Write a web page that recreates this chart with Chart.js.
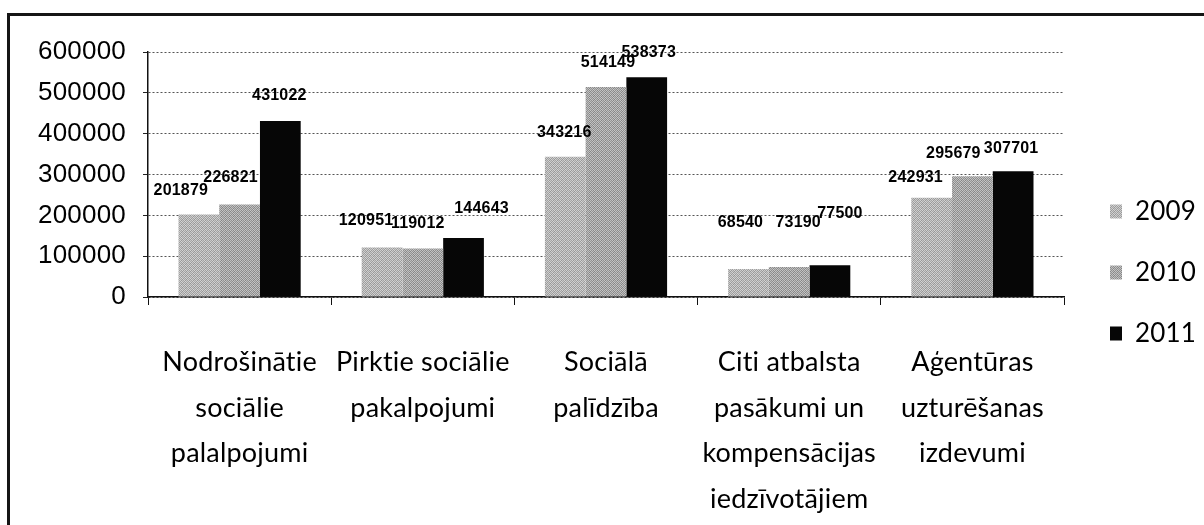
<!DOCTYPE html>
<html>
<head>
<meta charset="utf-8">
<script src="https://cdn.jsdelivr.net/npm/chart.js@4.4.1/dist/chart.umd.min.js"></script>
<style>
  html, body { margin: 0; padding: 0; background: #fff; }
  #wrap { position: relative; width: 1204px; height: 525px; overflow: hidden; background: #fff; }
  #c { position: absolute; left: 0; top: 0; }
  #frame { position: absolute; left: 7px; top: 13px; width: 1300px; height: 600px;
           border-top: 3px solid #151515; border-left: 3px solid #151515; pointer-events: none; }
</style>
</head>
<body>
<div id="wrap">
  <canvas id="c" width="1204" height="525"></canvas>
  <div id="frame"></div>
</div>
<script>
// ---- data ----
const categories = [
  ["Nodrošinātie", "sociālie", "palalpojumi"],
  ["Pirktie sociālie", "pakalpojumi"],
  ["Sociālā", "palīdzība"],
  ["Citi atbalsta", "pasākumi un", "kompensācijas", "iedzīvotājiem"],
  ["Aģentūras", "uzturēšanas", "izdevumi"]
];
const seriesNames = ["2009", "2010", "2011"];
const values2009 = [201879, 120951, 343216, 68540, 242931];
const values2010 = [226821, 119012, 514149, 73190, 295679];
const values2011 = [431022, 144643, 538373, 77500, 307701];
const yTicks = [0, 100000, 200000, 300000, 400000, 500000, 600000];

// label nudges (style only, relative to each bar top)
const labelNudge = [
  [[-18, -20], [-16, -23], [-1, -20], [-8, -42], [-16, -16]],
  [[-9, -22], [-5, -20], [2, -20], [9, -40], [-19, -18]],
  [[-1, -21], [18, -25], [2, -20], [10, -47], [-2, -18]]
];

function makePattern(cols) {
  const c = document.createElement('canvas');
  c.width = 4; c.height = 4;
  const x = c.getContext('2d');
  for (let i = 0; i < 4; i++) for (let j = 0; j < 4; j++) {
    x.fillStyle = cols[(i * 4 + j) % cols.length];
    x.fillRect(j, i, 1, 1);
  }
  return x.createPattern(c, 'repeat');
}
const fill2009 = makePattern(['#d2d2d2', '#989898', '#c6c6c6', '#a4a4a4', '#9c9c9c', '#d6d6d6', '#a8a8a8', '#cacaca', '#cccccc', '#9e9e9e', '#d4d4d4', '#9a9a9a', '#a6a6a6', '#c8c8c8', '#969696', '#d0d0d0', '#c3c3c3']);
const fill2010 = makePattern(['#c4c4c4', '#848484', '#bcbcbc', '#929292', '#8c8c8c', '#c8c8c8', '#989898', '#b8b8b8', '#c0c0c0', '#888888', '#c6c6c6', '#909090', '#949494', '#bebebe', '#868686', '#c2c2c2', '#adadad']);

const LABEL_FONT = "Lato, 'Liberation Sans', sans-serif";
const LEG_SIZE = 26, LEG_BOX = 12, LEG_PAD = 35, LEG_SHIFT = 11;
const measureCtx = document.createElement('canvas').getContext('2d');
measureCtx.font = LEG_SIZE + 'px ' + LABEL_FONT;
const legTextW = Math.max(...seriesNames.map(s => measureCtx.measureText(s).width));
const legendWidth = LEG_PAD + LEG_BOX + LEG_SIZE / 2 + legTextW + 10;
const rightPad = Math.max(0, 1204 - 1064 - legendWidth);

const legendNudge = {
  id: 'legendNudge',
  beforeDraw(chart) { chart.ctx.letterSpacing = '0.2px'; },
  afterLayout(chart) {
    if (chart.legend) { chart.legend.left += LEG_SHIFT; chart.legend.right += LEG_SHIFT; }
  }
};

const valueLabels = {
  id: 'valueLabels',
  afterDatasetsDraw(chart) {
    const ctx = chart.ctx;
    ctx.save();
    ctx.font = "bold 16px 'Liberation Sans', Arial, sans-serif";
    ctx.fillStyle = '#000';
    ctx.textAlign = 'center';
    ctx.textBaseline = 'alphabetic';
    chart.data.datasets.forEach((ds, di) => {
      const meta = chart.getDatasetMeta(di);
      meta.data.forEach((bar, i) => {
        const n = labelNudge[di][i];
        ctx.fillText(String(ds.data[i]), bar.x + n[0], bar.y + n[1]);
      });
    });
    ctx.restore();
  }
};

new Chart(document.getElementById('c'), {
  type: 'bar',
  data: {
    labels: categories,
    datasets: [
      { label: seriesNames[0], data: values2009, backgroundColor: fill2009 },
      { label: seriesNames[1], data: values2010, backgroundColor: fill2010 },
      { label: seriesNames[2], data: values2011, backgroundColor: '#060606' }
    ]
  },
  options: {
    responsive: false,
    devicePixelRatio: 1,
    animation: false,
    layout: { padding: { top: 20, right: rightPad, bottom: 0, left: 0 } },
    datasets: { bar: { categoryPercentage: 0.667, barPercentage: 1.0, borderWidth: 0 } },
    plugins: {
      tooltip: { enabled: false },
      title: { display: true, text: ' ', font: { size: 10, lineHeight: 1 }, padding: { top: 0, bottom: 22 } },
      legend: {
        position: 'right',
        align: 'center',
        labels: {
          boxWidth: LEG_BOX, boxHeight: 14, padding: LEG_PAD, color: '#000',
          font: { family: LABEL_FONT, size: LEG_SIZE }
        }
      }
    },
    scales: {
      x: {
        afterFit(scale) { scale.height = 228; },
        grid: { offset: true, drawOnChartArea: false, drawTicks: true, tickLength: 8, color: '#111', lineWidth: 1 },
        border: { display: true, color: '#111', width: 1.5 },
        ticks: {
          color: '#000', maxRotation: 0, autoSkip: false, padding: 34,
          font: { family: LABEL_FONT, size: 27, lineHeight: 1.7 }
        }
      },
      y: {
        min: 0, max: 600000,
        afterFit(scale) { scale.width = 148; },
        afterBuildTicks(scale) { scale.ticks = yTicks.map(v => ({ value: v })); },
        grid: { color: '#555', lineWidth: 1, tickLength: 5, tickColor: '#222', tickBorderDash: [] },
        border: { display: true, color: '#111', width: 1.5, dash: [2, 2] },
        ticks: {
          color: '#000', padding: 17,
          font: { family: "'Liberation Sans', Arial, sans-serif", size: 26 },
          callback: (v) => String(v)
        }
      }
    }
  },
  plugins: [valueLabels, legendNudge]
});
</script>
</body>
</html>
